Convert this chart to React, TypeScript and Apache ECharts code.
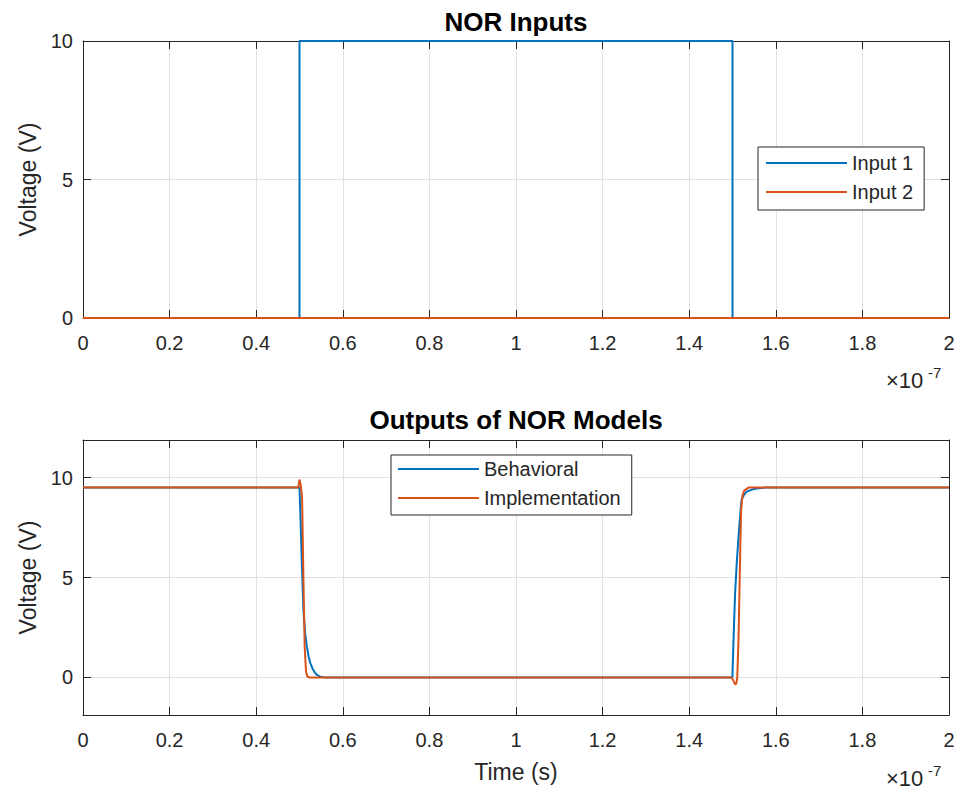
import React, { useEffect, useRef } from "react";
import * as echarts from "echarts";

// Time values are expressed in units of 1e-7 s (axis shows "×10^-7")
const xTickStep = 0.2;

// Top plot: NOR inputs
const input1T = [0, 0.5, 0.5, 1.5, 1.5, 2];
const input1V = [0, 0, 10, 10, 0, 0];
const input2T = [0, 2];
const input2V = [0, 0];

// Bottom plot: outputs of NOR models
const behavioralT = [
  0, 0.5, 0.502, 0.505, 0.509, 0.513, 0.517, 0.521, 0.525, 0.53, 0.536, 0.542, 0.548, 0.56,
  1.4997, 1.503, 1.506, 1.51, 1.514, 1.518, 1.521, 1.527, 1.533, 1.545, 1.556, 1.575, 2,
];
const behavioralV = [
  9.5, 9.5, 8.2, 6.0, 3.4, 2.2, 1.55, 1.05, 0.72, 0.45, 0.22, 0.1, 0.04, 0,
  0, 2.3, 4.2, 5.8, 7.05, 8.2, 8.9, 9.15, 9.3, 9.4, 9.45, 9.5, 9.5,
];
const implementationT = [
  0, 0.497, 0.5, 0.503, 0.506, 0.509, 0.512, 0.515, 0.518, 0.522,
  1.498, 1.502, 1.506, 1.509, 1.511, 1.514, 1.516, 1.518, 1.52, 1.523, 1.527, 1.537, 2,
];
const implementationV = [
  9.5, 9.5, 9.9, 9.6, 9.0, 5.0, 1.5, 0.3, 0.05, 0,
  0, -0.15, -0.35, -0.3, 0, 2.0, 4.2, 6.5, 8.4, 9.1, 9.35, 9.5, 9.5,
];

const topYTicks = [0, 5, 10];
const bottomYTicks = [0, 5, 10];
const bottomYMin = -1.88;
const bottomYMax = 11.88;

const BLUE = "#0072BD";
const ORANGE = "#D95319";
const AXIS = "#262626";
const GRID = "#e1e1e1";
const FONT = "'Liberation Sans', Arial, Helvetica, sans-serif";

const zip = (t: number[], v: number[]) => t.map((x, i) => [x, v[i]]);

const axisLine = { show: true, onZero: false, lineStyle: { color: AXIS, width: 1 } };
const axisTick = { show: true, inside: true, length: 8, lineStyle: { color: AXIS, width: 1 } };

function xAxes(gridIndex: number, withName: boolean) {
  const base = {
    type: "value",
    gridIndex,
    min: 0,
    max: 2,
    interval: xTickStep,
    axisLine,
    axisTick,
  };
  return [
    {
      ...base,
      position: "bottom",
      axisLabel: { color: AXIS, fontSize: 20, fontFamily: FONT, margin: 15 },
      splitLine: { show: true, lineStyle: { color: GRID, width: 1 } },
      name: withName ? "Time (s)" : "",
      nameLocation: "middle",
      nameGap: 45,
      nameTextStyle: { color: AXIS, fontSize: 23, fontFamily: FONT },
    },
    {
      ...base,
      position: "top",
      axisLabel: { show: false },
      splitLine: { show: false },
    },
  ];
}

function yAxes(gridIndex: number, min: number, max: number, ticks: number[]) {
  const base = {
    type: "value",
    gridIndex,
    min,
    max,
    axisLine,
    axisTick: { ...axisTick, customValues: ticks },
  };
  return [
    {
      ...base,
      position: "left",
      axisLabel: { color: AXIS, fontSize: 20, fontFamily: FONT, margin: 10, customValues: ticks },
      splitLine: { show: true, lineStyle: { color: GRID, width: 1 } },
      name: "Voltage (V)",
      nameLocation: "middle",
      nameGap: 40,
      nameTextStyle: { color: AXIS, fontSize: 23, fontFamily: FONT },
    },
    {
      ...base,
      position: "right",
      axisLabel: { show: false, customValues: ticks },
      splitLine: { show: false },
    },
  ];
}

function lineSeries(name: string, data: number[][], color: string, xi: number, yi: number) {
  return {
    name,
    type: "line",
    data,
    xAxisIndex: xi,
    yAxisIndex: yi,
    symbol: "none",
    showSymbol: false,
    lineStyle: { color, width: 2 },
    itemStyle: { color },
  };
}

function legend(names: string[], left: number, top: number, padding: number[]) {
  return {
    data: names,
    left,
    top,
    orient: "vertical",
    icon: "rect",
    itemWidth: 81,
    itemHeight: 2,
    itemGap: 9,
    padding,
    borderColor: AXIS,
    borderWidth: 1,
    backgroundColor: "#fff",
    selectedMode: false,
    textStyle: { color: AXIS, fontSize: 20, fontFamily: FONT },
  };
}

function textEl(text: string, x: number, y: number, size: number, bold = false, align = "left") {
  return {
    type: "text",
    x,
    y,
    style: {
      text,
      fill: bold ? "#000" : AXIS,
      font: `${bold ? "bold " : ""}${size}px ${FONT}`,
      align,
      verticalAlign: "middle",
    },
  };
}

export default function App() {
  const ref = useRef<HTMLDivElement>(null);
  useEffect(() => {
    if (!ref.current) return;
    const chart = echarts.init(ref.current, null, { renderer: "svg" });
    const option = {
      animation: false,
      backgroundColor: "#fff",
      grid: [
        { left: 83, top: 41, width: 866, height: 277, show: false },
        { left: 83, top: 440, width: 866, height: 275, show: false },
      ],
      xAxis: [...xAxes(0, false), ...xAxes(1, true)],
      yAxis: [
        ...yAxes(0, 0, 10, topYTicks),
        ...yAxes(1, bottomYMin, bottomYMax, bottomYTicks),
      ],
      legend: [
        legend(["Input 1", "Input 2"], 758, 147, [6, 11, 8, 8]),
        legend(["Behavioral", "Implementation"], 391, 455, [4, 11, 7, 7]),
      ],
      series: [
        lineSeries("Input 1", zip(input1T, input1V), BLUE, 0, 0),
        lineSeries("Input 2", zip(input2T, input2V), ORANGE, 0, 0),
        lineSeries("Behavioral", zip(behavioralT, behavioralV), BLUE, 2, 2),
        lineSeries("Implementation", zip(implementationT, implementationV), ORANGE, 2, 2),
      ],
      graphic: [
        textEl("NOR Inputs", 516, 22, 26, true, "center"),
        textEl("Outputs of NOR Models", 516, 420, 26, true, "center"),
        textEl("×10", 886, 380, 22),
        textEl("-7", 928, 372, 15),
        textEl("×10", 886, 778, 22),
        textEl("-7", 928, 770, 15),
      ],
    };
    chart.setOption(option as any);
    return () => chart.dispose();
  }, []);
  return (
    <div
      ref={ref}
      style={{ position: "fixed", left: 0, top: 0, width: 961, height: 797, background: "#fff" }}
    />
  );
}
